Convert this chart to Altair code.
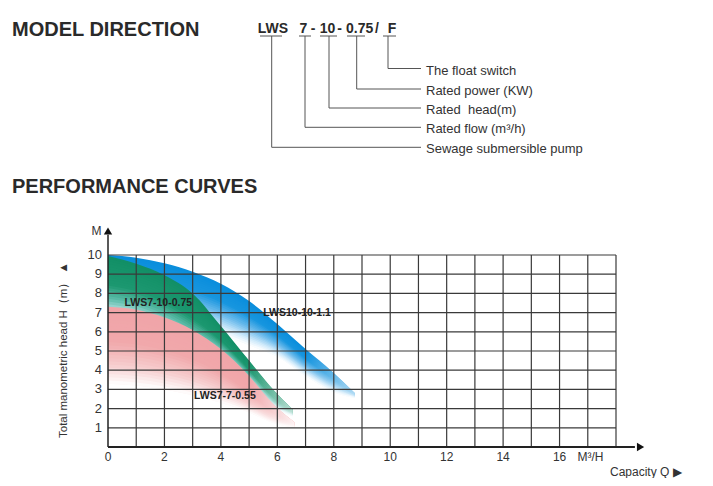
import altair as alt
import pandas as pd

# ---------------- data ----------------
# H-Q curves (top edge of each coloured band) and the level where its fill fades to white
blue_q = [0, 1, 2, 3, 4, 5, 6, 7, 8, 8.75]
blue_h = [10.0, 9.86, 9.57, 9.13, 8.5, 7.6, 6.4, 5.1, 3.85, 2.8]
blue_fade = [7.2, 7.0, 6.8, 6.4, 5.9, 5.3, 4.7, 3.7, 2.85, 2.55]

green_q = [0, 1, 2, 3, 4, 5, 5.85, 6.55]
green_h = [9.95, 9.55, 8.95, 8.0, 6.3, 4.5, 3.0, 1.95]
green_fade = [6.6, 6.4, 5.9, 5.1, 4.6, 3.4, 2.1, 1.6]

pink_q = [0, 1, 2, 3, 4, 5, 5.75, 6.6]
pink_h = [7.3, 7.15, 6.75, 6.1, 5.1, 3.7, 2.4, 1.3]
pink_fade = [3.3, 3.2, 3.0, 2.7, 2.3, 1.8, 1.3, 1.0]

series_names = ["LWS10-10-1.1", "LWS7-10-0.75", "LWS7-7-0.55"]
label_q = [6.70, 1.78, 4.14]
label_h = [7.0, 7.52, 2.66]

x_ticks = [0, 2, 4, 6, 8, 10, 12, 14, 16]
y_ticks = [1, 2, 3, 4, 5, 6, 7, 8, 9, 10]
grid_x = list(range(1, 19))
grid_y = list(range(1, 11))
X_MAX, Y_MAX = 18, 10
X_ARROW, Y_ARROW = 18.87, 11.25

# texts
heading_texts = ["MODEL DIRECTION", "PERFORMANCE CURVES"]
code_parts = ["LWS", "7", "-", "10", "-", "0.75", "/", "F"]
descriptions = ["The float switch", "Rated power (KW)", "Rated\u00a0 head(m)",
                "Rated flow (m³/h)", "Sewage submersible pump"]
y_title = "Total manometric head H（m）\u00a0▲"
y_unit = "M"
x_unit = "M³/H"
x_title = "Capacity Q ▶"

# ---------------- layout (page pixels) ----------------
OX, OY = 108, 255          # plot origin on the page
W, H = 508, 192
FONT = "Liberation Sans"

heading_pos = [(12, 36), (12, 193)]
code_x = [273, 303.5, 313, 327.5, 339.5, 359.7, 377, 392]
code_base = 33
underlines = [(260, 282), (299, 311), (320, 337), (347, 365), (383, 396)]
underline_y = 36
connector_x = [271.7, 305, 329, 356.7, 388]
connector_y = [147.3, 127.3, 108, 89, 68.5]
connector_end = 421
desc_x = 426
desc_y = [71, 90.5, 109.5, 129, 148.5]

one = pd.DataFrame({"k": [0]})

xs = alt.Scale(domain=[0, X_MAX], nice=False, zero=False)
ys = alt.Scale(domain=[0, Y_MAX], nice=False, zero=False)


def hex2rgb(h):
    h = h.lstrip("#")
    return [int(h[i:i + 2], 16) for i in (0, 2, 4)]


def ramp(stops, t):
    for (p0, c0), (p1, c1) in zip(stops, stops[1:]):
        if t <= p1:
            f = (t - p0) / (p1 - p0)
            a, b = hex2rgb(c0), hex2rgb(c1)
            return "#" + "".join("%02x" % round(a[i] + (b[i] - a[i]) * f) for i in range(3))
    return stops[-1][1]


N = 24


def bands(q, top, fade, stops, tip_points, tip_alpha):
    out = []
    for i in range(N):
        t0 = i / N
        t1 = min(i + 2, N) / N
        df = pd.DataFrame({"q": q,
                           "y": [a - (a - b) * t0 for a, b in zip(top, fade)],
                           "y2": [a - (a - b) * t1 for a, b in zip(top, fade)]})
        col = ramp(stops, (i + 0.5) / N)
        out.append(alt.Chart(df).mark_area(color=col, interpolate="monotone").encode(
            x=alt.X("q:Q", scale=xs, axis=None),
            y=alt.Y("y:Q", scale=ys, axis=None),
            y2="y2:Q"))
    # the band fades out towards its tip
    tip = pd.DataFrame({"q": q[-tip_points:], "y": top[-tip_points:], "y2": fade[-tip_points:]})
    grad = alt.Gradient(gradient="linear", x1=0, x2=1, y1=0, y2=0,
                        stops=[alt.GradientStop(color="rgba(255,255,255,0)", offset=0),
                               alt.GradientStop(color="rgba(255,255,255,%.2f)" % tip_alpha, offset=1)])
    out.append(alt.Chart(tip).mark_area(color=grad, interpolate="monotone").encode(
        x=alt.X("q:Q", scale=xs, axis=None),
        y=alt.Y("y:Q", scale=ys, axis=None),
        y2="y2:Q"))
    return out


blue_stops = [(0, "#0a8ddc"), (0.35, "#1896df"), (0.62, "#6fbcec"), (0.85, "#d0eafa"), (1, "#ffffff")]
green_stops = [(0, "#128f66"), (0.45, "#1c9870"), (0.68, "#63bfae"), (0.85, "#bfe6ea"), (1, "#ffffff")]
pink_stops = [(0, "#f0a4a8"), (0.45, "#f1a8ab"), (0.75, "#f6cccd"), (1, "#ffffff")]

layers = []
layers += bands(blue_q, blue_h, blue_fade, blue_stops, 3, 0.65)
layers += bands(green_q, green_h, green_fade, green_stops, 3, 0.7)
layers += bands(pink_q, pink_h, pink_fade, pink_stops, 3, 0.85)

# grid
gx = pd.DataFrame({"gx": grid_x})
gy = pd.DataFrame({"gy": grid_y})
layers.append(alt.Chart(gx).mark_rule(color="#3a3a3a", strokeWidth=1.2).encode(
    x=alt.X("gx:Q", scale=xs, axis=None), y=alt.datum(0, scale=ys, axis=None), y2=alt.datum(Y_MAX)))
layers.append(alt.Chart(gy).mark_rule(color="#3a3a3a", strokeWidth=1.2).encode(
    y=alt.Y("gy:Q", scale=ys, axis=None), x=alt.datum(0, scale=xs, axis=None), x2=alt.datum(X_MAX)))

# axis lines with arrows
layers.append(alt.Chart(one).mark_rule(color="#222", strokeWidth=1.8).encode(
    x=alt.datum(0, scale=xs, axis=None), x2=alt.datum(X_ARROW - 0.2), y=alt.datum(0, scale=ys, axis=None)))
layers.append(alt.Chart(one).mark_rule(color="#222", strokeWidth=1.5).encode(
    x=alt.datum(0, scale=xs, axis=None), y=alt.datum(0, scale=ys, axis=None), y2=alt.datum(Y_ARROW - 0.2)))
layers.append(alt.Chart(one).mark_point(shape="triangle-right", filled=True, color="#111",
                                         size=70, opacity=1).encode(
    x=alt.datum(X_ARROW, scale=xs, axis=None), y=alt.datum(0, scale=ys, axis=None)))
layers.append(alt.Chart(one).mark_point(shape="triangle-up", filled=True, color="#111",
                                         size=70, opacity=1).encode(
    x=alt.datum(0, scale=xs, axis=None), y=alt.datum(Y_ARROW, scale=ys, axis=None)))

# tick labels
xt = pd.DataFrame({"v": x_ticks})
yt = pd.DataFrame({"v": y_ticks})
layers.append(alt.Chart(xt).mark_text(font=FONT, fontSize=12, color="#333", align="center",
                                      baseline="top", dy=5).encode(
    x=alt.X("v:Q", scale=xs, axis=None), y=alt.datum(0, scale=ys, axis=None), text="v:Q"))
layers.append(alt.Chart(yt).mark_text(font=FONT, fontSize=13, color="#333", align="right",
                                      baseline="middle", dx=-6).encode(
    y=alt.Y("v:Q", scale=ys, axis=None), x=alt.datum(0, scale=xs, axis=None), text="v:Q"))

# series labels
lab = pd.DataFrame({"name": series_names, "q": label_q, "h": label_h})
layers.append(alt.Chart(lab).mark_text(font=FONT, fontSize=10.5, fontWeight="bold",
                                       color="#222", align="center", baseline="middle").encode(
    x=alt.X("q:Q", scale=xs, axis=None), y=alt.Y("h:Q", scale=ys, axis=None), text="name:N"))


def ptext(s, px, py, size, bold=False, align="left", baseline="middle", color="#222", angle=None):
    kw = dict(text=s, fontSize=size, fontWeight="bold" if bold else "normal", align=align,
              baseline=baseline, color=color, font=FONT)
    if angle is not None:
        kw["angle"] = angle
    return alt.Chart(one).mark_text(**kw).encode(x=alt.value(px - OX), y=alt.value(py - OY))


def prule(x1, x2, y1, y2, color="#555", w=1):
    return alt.Chart(one).mark_rule(color=color, strokeWidth=w).encode(
        x=alt.value(x1 - OX), x2=alt.value(x2 - OX), y=alt.value(y1 - OY), y2=alt.value(y2 - OY))


for s, (px, py) in zip(heading_texts, heading_pos):
    layers.append(ptext(s, px, py, 20, bold=True, baseline="alphabetic", color="#2a2a2a"))
for s, px in zip(code_parts, code_x):
    layers.append(ptext(s, px, code_base, 14, bold=True, align="center", baseline="alphabetic",
                        color="#2a2a2a"))
for x1, x2 in underlines:
    layers.append(prule(x1, x2, underline_y, underline_y))
for cx, cy in zip(connector_x, connector_y):
    layers.append(prule(cx, cx, underline_y, cy))
    layers.append(prule(cx, connector_end, cy, cy))
for s, dy in zip(descriptions, desc_y):
    layers.append(ptext(s, desc_x, dy, 13, color="#333"))

layers.append(ptext(y_unit, 96.5, 231, 12, align="center", color="#333"))
layers.append(ptext(x_unit, 590.5, 456.5, 12, align="center", color="#333"))
layers.append(ptext(x_title, 610, 471.5, 12, color="#333"))
layers.append(ptext(y_title, 63.5, 350, 11.5, align="center", color="#333", angle=270))

chart = alt.layer(*layers).properties(
    width=W, height=H,
    padding={"left": OX - 8, "top": OY - 8, "right": 685 - (OX - 8) - W, "bottom": 470 - (OY - 8) - H},
    autosize=alt.AutoSizeParams(type="none"),
    background="white",
).configure_view(stroke=None)

chart.save("out.html", embed_options={"renderer": "svg", "actions": False})
